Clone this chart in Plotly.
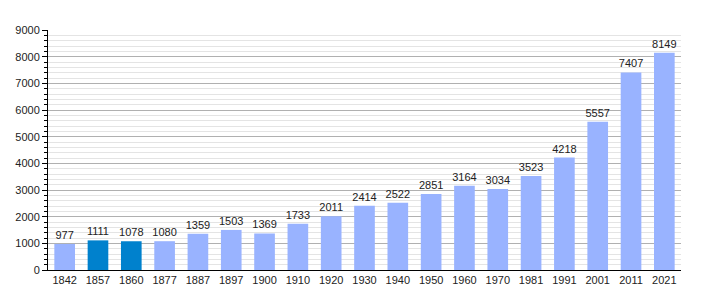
import plotly.graph_objects as go

years = ["1842","1857","1860","1877","1887","1897","1900","1910","1920","1930",
         "1940","1950","1960","1970","1981","1991","2001","2011","2021"]
population = [977,1111,1078,1080,1359,1503,1369,1733,2011,2414,
              2522,2851,3164,3034,3523,4218,5557,7407,8149]
highlight = ["1857","1860"]

colors = ["#0081cd" if y in highlight else "#99b3ff" for y in years]

fig = go.Figure(go.Bar(
    x=years, y=population, marker_color=colors, marker_line_width=0,
    text=[str(v) for v in population], textposition="outside",
    textfont=dict(size=11, color="#222"), cliponaxis=False, width=0.62,
))
fig.update_layout(
    width=710, height=300, margin=dict(l=48, r=29, t=30, b=30),
    plot_bgcolor="white", paper_bgcolor="white",
    font=dict(family="Liberation Sans, Arial", size=11, color="#222"),
    showlegend=False,
    uniformtext=dict(minsize=11, mode="show"),
)
fig.update_xaxes(type="category", showline=True, linecolor="black", linewidth=1,
                 ticks="", tickfont=dict(size=11), showgrid=False)
fig.update_yaxes(range=[0, 9000], dtick=1000, showline=True, linecolor="black",
                 linewidth=1, ticks="outside", ticklen=5, tickcolor="black",
                 gridcolor="#b0b0b0", gridwidth=1, zeroline=False,
                 minor=dict(dtick=200, showgrid=True, gridcolor="#e4e4e4",
                            ticks="outside", ticklen=3, tickcolor="black"),
                 tickfont=dict(size=11))
fig.write_html("out.html")
